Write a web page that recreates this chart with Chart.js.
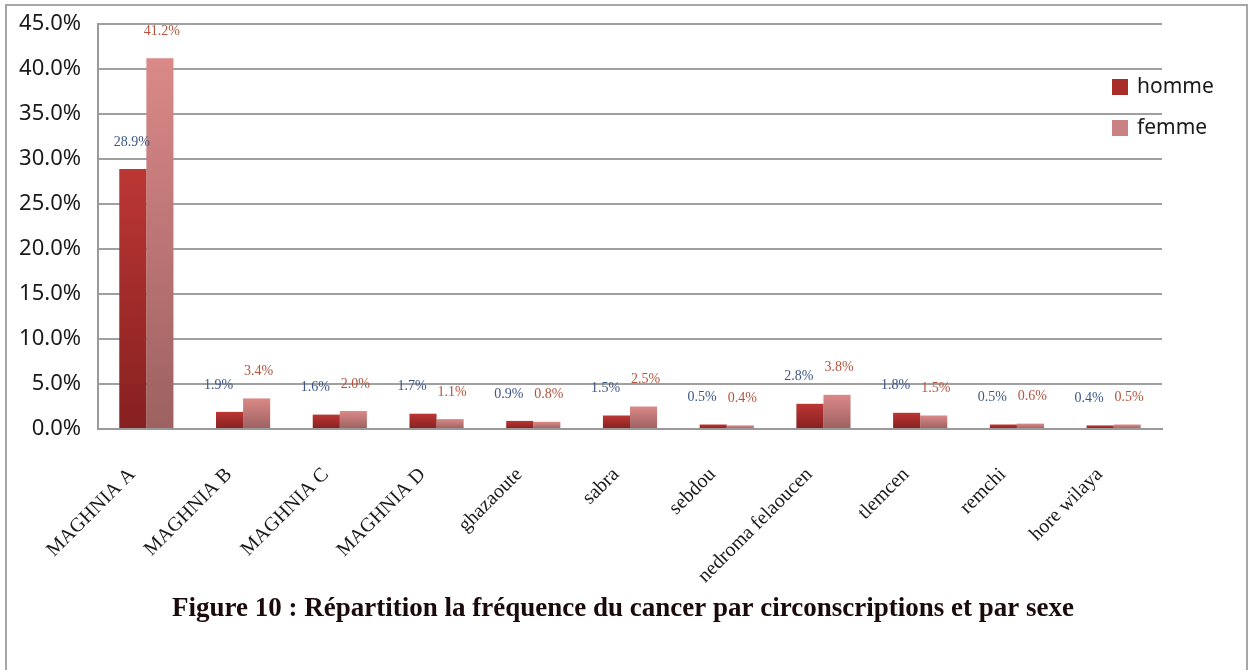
<!DOCTYPE html>
<html>
<head>
<meta charset="utf-8">
<script src="https://cdn.jsdelivr.net/npm/chart.js@4.4.1/dist/chart.umd.min.js"></script>
<style>
  html, body { margin: 0; padding: 0; background: #fff; }
  #cadre { position: absolute; left: 5px; top: 4px; width: 1239px; height: 700px; border: 2px solid #a6a6a6; }
  #wrap { position: absolute; left: 0; top: 0; width: 1249px; height: 670px; }
</style>
</head>
<body>
<div id="cadre"></div>
<div id="wrap"><canvas id="graf" width="1249" height="670"></canvas></div>
<script>
// Podatki
const circonscriptions = ['MAGHNIA A', 'MAGHNIA B', 'MAGHNIA C', 'MAGHNIA D', 'ghazaoute', 'sabra', 'sebdou', 'nedroma felaoucen', 'tlemcen', 'remchi', 'hore wilaya'];
const homme = [28.9, 1.9, 1.6, 1.7, 0.9, 1.5, 0.5, 2.8, 1.8, 0.5, 0.4];
const femme = [41.2, 3.4, 2.0, 1.1, 0.8, 2.5, 0.4, 3.8, 1.5, 0.6, 0.5];
const yTicks = [0, 5, 10, 15, 20, 25, 30, 35, 40, 45];
const titre = 'Figure 10 : Répartition la fréquence du cancer par circonscriptions et par sexe';

// Gradient za vsak stolpec posebej
function gradient(ctx, top, bottom) {
    const chart = ctx.chart;
    const y = chart.scales && chart.scales.y;
    if (!chart.chartArea || !y || ctx.raw === undefined) return top;
    const y0 = y.getPixelForValue(ctx.raw);
    const y1 = y.getPixelForValue(0);
    const g = chart.ctx.createLinearGradient(0, y0, 0, Math.max(y1, y0 + 1));
    g.addColorStop(0, top);
    g.addColorStop(1, bottom);
    return g;
}

// Oznake nad stolpci
const oznake = {
    id: 'oznake',
    afterDatasetsDraw(chart) {
        const c = chart.ctx;
        c.save();
        c.font = '14px "Liberation Serif", "Times New Roman", serif';
        c.textAlign = 'center';
        c.textBaseline = 'middle';
        chart.data.datasets.forEach((ds, i) => {
            const meta = chart.getDatasetMeta(i);
            c.fillStyle = i === 0 ? '#3d5688' : '#b4533c';
            meta.data.forEach((bar, j) => {
                const dx = i === 0 ? (j === 0 ? -1 : -11) : 2;
                c.fillText(ds.data[j].toFixed(1) + '%', bar.x + dx, bar.y - 27);
            });
        });
        c.restore();
    }
};

// Legenda desno zgoraj in naslov spodaj
const legenda = {
    id: 'legenda',
    afterDraw(chart) {
        const c = chart.ctx;
        c.save();
        c.font = '21px "Noto Sans", "Liberation Sans", sans-serif';
        c.textBaseline = 'middle';
        chart.data.datasets.forEach((ds, i) => {
            const y = 87 + i * 41;
            c.fillStyle = i === 0 ? '#a82c2a' : '#c98281';
            c.fillRect(1112, y - 8, 16, 16);
            c.fillStyle = '#1a1a1a';
            c.fillText(ds.label, 1137, y);
        });
        c.font = 'bold 27px "Liberation Serif", "Times New Roman", serif';
        c.textAlign = 'center';
        c.fillStyle = '#1a0a0a';
        c.fillText(titre, 623, 609);
        c.restore();
    }
};

const ctx = document.getElementById('graf').getContext('2d');
const chart = new Chart(ctx, {
    type: 'bar',
    data: {
        labels: circonscriptions,
        datasets: [{
            label: 'homme',
            data: homme,
            backgroundColor: (c) => gradient(c, '#bb3734', '#862020'),
            categoryPercentage: 0.56,
            barPercentage: 1
        }, {
            label: 'femme',
            data: femme,
            backgroundColor: (c) => gradient(c, '#da8988', '#9c6160'),
            categoryPercentage: 0.56,
            barPercentage: 1
        }]
    },
    plugins: [oznake, legenda],
    options: {
        responsive: false,
        animation: false,
        layout: { padding: { left: 0, right: 87, top: 24, bottom: 0 } },
        plugins: {
            legend: { display: false },
            tooltip: { enabled: false },
            title: { display: false }
        },
        scales: {
            x: {
                grid: { display: false },
                border: { color: '#9a9a9a', width: 2 },
                ticks: {
                    autoSkip: false,
                    maxRotation: 45,
                    minRotation: 45,
                    padding: 26,
                    labelOffset: -14,
                    color: '#1a1a1a',
                    font: { family: '"Liberation Serif", "Times New Roman", serif', size: 20 }
                },
                afterFit(scale) { scale.height = 241; }
            },
            y: {
                min: 0,
                max: 45,
                afterBuildTicks(scale) { scale.ticks = yTicks.map(v => ({ value: v })); },
                grid: { color: '#a0a0a0', lineWidth: 2, tickLength: 0 },
                border: { color: '#9a9a9a', width: 2 },
                ticks: {
                    padding: 17,
                    color: '#1a1a1a',
                    font: { family: '"Noto Sans", "Liberation Sans", sans-serif', size: 22 },
                    callback: (v) => v.toFixed(1) + '%'
                },
                afterFit(scale) {
                    scale.width = 98;
                    scale.paddingTop = 10;
                    scale.paddingBottom = 10;
                }
            }
        }
    }
});
</script>
</body>
</html>
